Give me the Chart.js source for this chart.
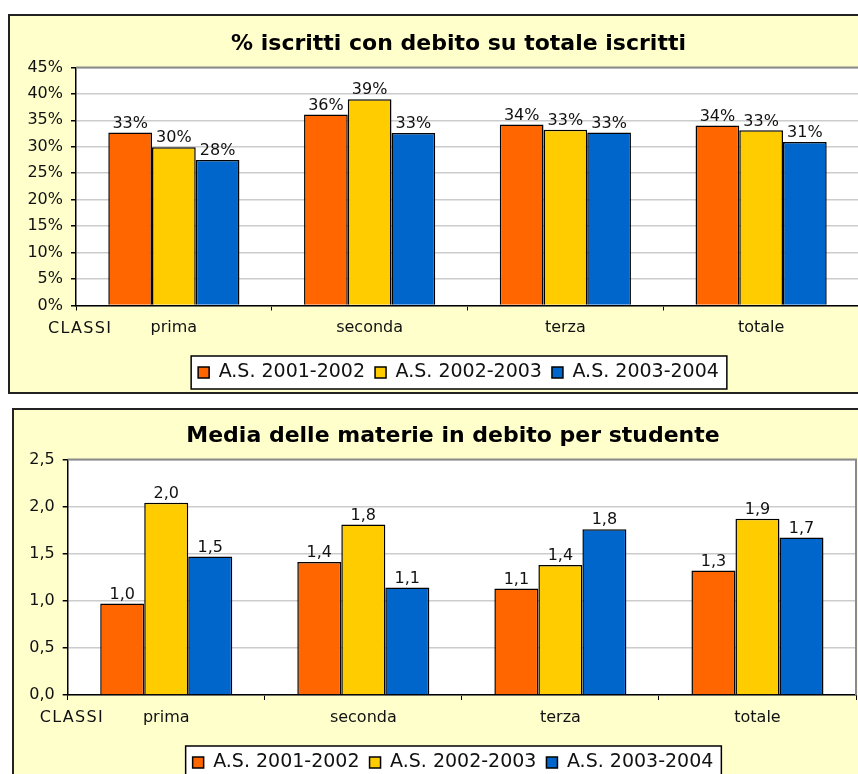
<!DOCTYPE html>
<html>
<head>
<meta charset="utf-8">
<script src="https://cdn.jsdelivr.net/npm/chart.js@4/dist/chart.umd.min.js"></script>
<style>
  html, body { margin: 0; padding: 0; background: #fff; overflow: hidden; }
  .box { position: absolute; background: #ffffcc; border: 2px solid #222; }
  #box1 { left: 8px; top: 14px; width: 880px; height: 376px; }
  #box2 { left: 12px; top: 408px; width: 880px; height: 380px; }
  .box canvas { position: absolute; left: 0; top: 0; }
</style>
</head>
<body>
<div class="box" id="box1"><canvas id="chart1" width="860" height="376"></canvas></div>
<div class="box" id="box2"><canvas id="chart2" width="860" height="372"></canvas></div>
<script>
// categories and series
const classi = ['prima', 'seconda', 'terza', 'totale'];
const anni = ['A.S. 2001-2002', 'A.S. 2002-2003', 'A.S. 2003-2004'];
const colori = ['#ff6600', '#ffcc00', '#0066cc'];

// % iscritti con debito
const perc0102 = [32.7, 36.1, 34.2, 34.0];
const perc0203 = [29.9, 39.0, 33.2, 33.1];
const perc0304 = [27.5, 32.6, 32.7, 30.9];

// media materie in debito
const media0102 = [0.97, 1.41, 1.13, 1.32];
const media0203 = [2.04, 1.81, 1.38, 1.87];
const media0304 = [1.47, 1.14, 1.76, 1.67];

const FONT = 'DejaVu Sans, Verdana, sans-serif';

// white plot area, gray frame, box round the legend, CLASSI label, bar values
const decor = {
    id: 'decor',
    afterLayout(chart, args, opts) {
        // title and legend sit a bit right of centre in the original
        chart.legend.left += opts.shift;
        chart.legend.right += opts.shift;
        chart.titleBlock.left += opts.shift;
        chart.titleBlock.right += opts.shift;
    },
    beforeDraw(chart) {
        const ctx = chart.ctx, a = chart.chartArea;
        ctx.save();
        ctx.fillStyle = '#fff';
        ctx.fillRect(a.left, a.top, a.right - a.left, a.bottom - a.top);
        const hb = chart.legend.legendHitBoxes;
        if (hb && hb.length) {
            let l = Math.min(...hb.map(h => h.left)) - 7;
            let r = Math.max(...hb.map(h => h.left + h.width)) + 8;
            let t = Math.min(...hb.map(h => h.top)) - 7;
            let b = Math.max(...hb.map(h => h.top + h.height)) + 7;
            ctx.fillRect(l, t, r - l, b - t);
            ctx.strokeStyle = '#000';
            ctx.lineWidth = 1.5;
            ctx.strokeRect(l, t, r - l, b - t);
        }
        ctx.restore();
    },
    afterDraw(chart, args, opts) {
        const ctx = chart.ctx, a = chart.chartArea;
        ctx.save();
        ctx.strokeStyle = '#8a8a8a';
        ctx.lineWidth = 2;
        ctx.beginPath();
        ctx.moveTo(a.left, a.top);
        ctx.lineTo(a.right, a.top);
        ctx.lineTo(a.right, a.bottom);
        ctx.stroke();
        ctx.fillStyle = '#111';
        ctx.font = '16px ' + FONT;
        ctx.textBaseline = 'middle';
        ctx.textAlign = 'left';
        ctx.letterSpacing = '1.3px';
        ctx.fillText('CLASSI', a.left - 28, a.bottom + 23);
        ctx.letterSpacing = '0px';
        // value labels
        ctx.textAlign = 'center';
        ctx.textBaseline = 'bottom';
        chart.data.datasets.forEach((ds, i) => {
            chart.getDatasetMeta(i).data.forEach((bar, j) => {
                ctx.fillText(opts.fmt(ds.data[j]), bar.x, bar.y - 1);
            });
        });
        ctx.restore();
    }
};

function makeChart(id, sets, title, yMax, yStep, fmtTick, fmtVal, shift, yWidth, padRight, xHeight, titlePad) {
    new Chart(document.getElementById(id), {
        type: 'bar',
        data: {
            labels: classi,
            datasets: sets.map((d, i) => ({
                label: anni[i],
                data: d,
                backgroundColor: colori[i],
                borderColor: '#000',
                borderWidth: 1.5,
                categoryPercentage: 0.67,
                barPercentage: 1
            }))
        },
        options: {
            responsive: false,
            animation: false,
            layout: { padding: { left: 0, right: padRight, top: 0, bottom: 0 } },
            plugins: {
                title: {
                    display: true, text: title, color: '#000',
                    font: { family: FONT, size: 22, weight: 'bold' },
                    padding: titlePad
                },
                legend: {
                    position: 'bottom',
                    labels: {
                        color: '#111', boxWidth: 11, boxHeight: 11, padding: 10,
                        font: { family: FONT, size: 19 }
                    }
                },
                tooltip: { enabled: false },
                decor: { fmt: fmtVal, shift: shift }
            },
            scales: {
                x: {
                    grid: { display: true, drawOnChartArea: false, drawTicks: true, tickLength: 5, offset: true, color: '#000' },
                    border: { color: '#000', width: 1.5 },
                    ticks: { color: '#111', padding: 8, font: { family: FONT, size: 16 } },
                    afterFit: s => { s.height = xHeight; }
                },
                y: {
                    min: 0, max: yMax,
                    grid: { color: '#cccccc', lineWidth: 1.5, tickLength: 5, tickColor: '#000' },
                    border: { color: '#000', width: 1.5 },
                    ticks: { stepSize: yStep, color: '#111', padding: 8, font: { family: FONT, size: 16 }, callback: fmtTick },
                    afterFit: s => { s.width = yWidth; }
                }
            }
        },
        plugins: [decor]
    });
}

makeChart('chart1', [perc0102, perc0203, perc0304],
    '% iscritti con debito su totale iscritti', 45, 5,
    v => v + '%', v => Math.round(v) + '%',
    24, 66, 11, 47.5, { top: 15, bottom: 10 });

makeChart('chart2', [media0102, media0203, media0304],
    'Media delle materie in debito per studente', 2.5, 0.5,
    v => v.toFixed(1).replace('.', ','), v => v.toFixed(1).replace('.', ','),
    18, 53.7, 18, 48, { top: 13, bottom: 10 });
</script>
</body>
</html>
